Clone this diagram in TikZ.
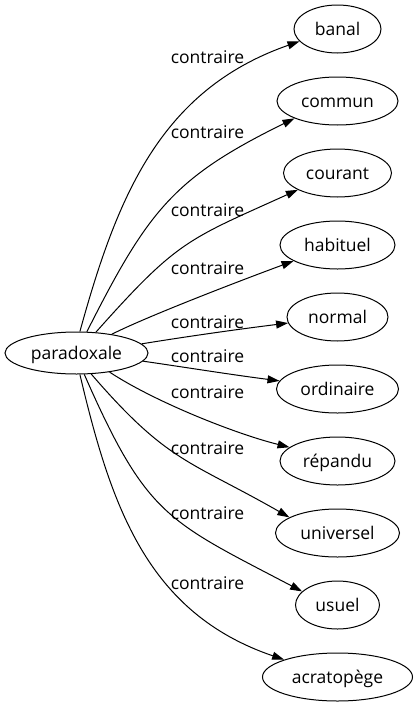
\documentclass[tikz,border=0pt]{standalone}
\usepackage{fontspec}
\setmainfont{Open Sans}
\usetikzlibrary{shapes.geometric,arrows.meta}
\begin{document}
\begin{tikzpicture}[x=1pt,y=-1pt,
  word/.style={ellipse,draw,line width=1pt,inner sep=0pt,minimum height=48pt,text height=13pt,text depth=0pt,font=\fontsize{17.5}{20}\selectfont},
  lbl/.style={inner sep=0pt,text height=13pt,text depth=0pt,font=\fontsize{17.5}{20}\selectfont},
  rel/.style={line width=1pt,-{Triangle[length=12pt,width=8pt]}}]
\useasboundingbox (0,0) rectangle (418,707);
\node[word,minimum width=143pt,minimum height=42pt] (p) at (76.5,353) {paradoxale};
\node[word,minimum width=87pt]  (t1) at (337.5,29)  {banal};
\node[word,minimum width=121pt] (t2) at (337.5,101) {commun};
\node[word,minimum width=108pt] (t3) at (337.5,173) {courant};
\node[word,minimum width=115pt] (t4) at (337.5,245) {habituel};
\node[word,minimum width=101pt] (t5) at (337.5,317) {normal};
\node[word,minimum width=122pt] (t6) at (337.5,389) {ordinaire};
\node[word,minimum width=115pt] (t7) at (337.5,461) {répandu};
\node[word,minimum width=124pt] (t8) at (337.5,533) {universel};
\node[word,minimum width=84pt]  (t9) at (337.5,605) {usuel};
\node[word,minimum width=150pt] (t10) at (337.5,677) {acratopège};
\draw[rel] (p.81.3) .. controls (117,197) and (160,90) .. (t1.198.2);
\draw[rel] (p.64.5) .. controls (148,211) and (173,178) .. (t2.202.8);
\draw[rel] (p.47.9) .. controls (178,240) and (187,240) .. (t3.203.8);
\draw[rel] (p.28.6) .. controls (150,315) and (250,277) .. (t4.200.2);
\draw[rel] (p.8.6) .. controls (190,336) and (240,329) .. (t5.187);
\draw[rel] (p.-7.7) .. controls (190,368) and (230,374.5) .. (t6.172.3);
\draw[rel] (p.-30.6) .. controls (155,402) and (236,434) .. (t7.164.2);
\draw[rel] (p.-55.5) .. controls (168,463) and (189,460) .. (t8.162.5);
\draw[rel] (p.-70.5) .. controls (147,517) and (167,520.5) .. (t9.159.5);
\draw[rel] (p.-81.7) .. controls (111,506) and (147,613) .. (t10.162);
\node[lbl] (l1) at (207.5,57) {contraire};
\node[lbl] (l2) at (207.5,132) {contraire};
\node[lbl] (l3) at (207.5,210) {contraire};
\node[lbl] (l4) at (207.5,268) {contraire};
\node[lbl] (l5) at (207.5,322) {contraire};
\node[lbl] (l6) at (207.5,356) {contraire};
\node[lbl] (l7) at (207.5,392) {contraire};
\node[lbl] (l8) at (207.5,448) {contraire};
\node[lbl] (l9) at (207.5,513) {contraire};
\node[lbl] (l10) at (207.5,583) {contraire};
\end{tikzpicture}
\end{document}
